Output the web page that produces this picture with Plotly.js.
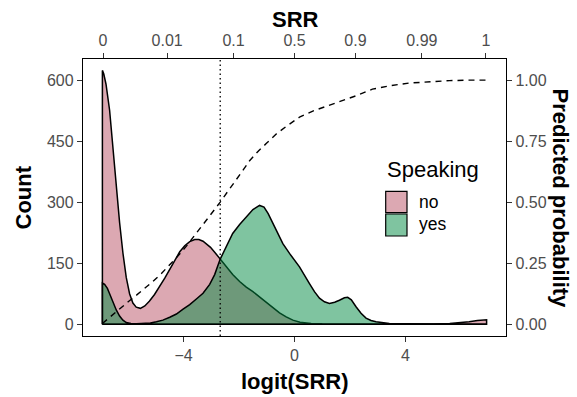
<!DOCTYPE html>
<html>
<head>
<meta charset="utf-8">
<script src="https://cdn.plot.ly/plotly-3.0.1.min.js"></script>
<style>html,body{margin:0;padding:0;background:#fff;}#chart{width:577px;height:397px;}</style>
</head>
<body>
<div id="chart"></div>
<script>
// ---- data ----
const categories = ["no", "yes"];
const noX = [-6.93,-6.88,-6.80,-6.67,-6.55,-6.43,-6.31,-6.19,-6.07,-5.95,-5.83,-5.71,-5.56,-5.40,-5.23,-5.05,-4.86,-4.68,-4.50,-4.32,-4.14,-3.96,-3.78,-3.60,-3.45,-3.30,-3.18,-3.03,-2.88,-2.68,-2.45,-2.23,-1.98,-1.74,-1.50,-1.26,-1.02,-0.78,-0.54,-0.30,-0.06,0.20,0.60,1.00,2.00,3.00,4.00,5.00,5.60,5.95,6.30,6.60,6.93];
const noY = [624,615,590,526,435,335,250,175,115,75,52,42,39,45,57,73,93,113,135,157,178,193,203,208,208,204,198,189,177,160,140,122,105,91,80,67,52,39,28,18,10,5,2,1,0.5,0.5,0.5,0.8,1.5,3,6,9,11];
const yesX = [-6.93,-6.85,-6.75,-6.67,-6.55,-6.43,-6.31,-6.19,-6.07,-5.90,-5.70,-5.47,-5.20,-4.98,-4.75,-4.50,-4.26,-4.02,-3.78,-3.54,-3.30,-3.06,-2.88,-2.68,-2.45,-2.23,-1.98,-1.74,-1.50,-1.26,-1.10,-0.95,-0.78,-0.60,-0.42,-0.18,0.18,0.54,0.72,0.90,1.08,1.26,1.45,1.62,1.80,1.92,2.05,2.22,2.40,2.58,2.76,2.94,3.20,3.42,4.00,5.00,6.00,6.93];
const yesY = [101,98,88,75,55,35,20,10,4,1.5,1,1.5,3,6,10,17,25,37,48,62,76,98,122,160,193,223,245,264,282,292,288,272,248,222,198,174,141,100,80,64,55,51,54,59,65,66,60,43,27,15,9,6,3,2,1,0.5,0.5,0.5];
const probX = [-6.93,-6.60,-6.31,-6.00,-5.70,-5.40,-5.10,-4.80,-4.50,-4.20,-3.90,-3.60,-3.30,-3.00,-2.68,-2.40,-2.10,-1.85,-1.62,-1.30,-1.02,-0.65,-0.30,0.20,0.70,1.20,1.51,2.20,2.81,3.50,4.14,5.00,5.59,6.30,6.93];
const probY = [0.003,0.035,0.064,0.092,0.119,0.147,0.176,0.208,0.242,0.280,0.320,0.364,0.410,0.455,0.500,0.545,0.590,0.632,0.670,0.710,0.740,0.780,0.810,0.850,0.875,0.895,0.905,0.935,0.963,0.978,0.988,0.995,0.998,1.000,1.000];
const cutoff = [-2.68];
const countTicks = [0,150,300,450,600];
const probTicks = [0,0.25,0.5,0.75,1];
const probTickLabels = ["0.00","0.25","0.50","0.75","1.00"];
const logitTicks = [-4,0,4];
const srrTickProbs = [0.001,0.01,0.1,0.5,0.9,0.99,0.999];
const srrTickLabels = ["0","0.01","0.1","0.5","0.9","0.99","1"];

// ---- layout helpers ----
const W=577,H=397,M={l:83,r:71,t:59,b:61};
const PW=W-M.l-M.r, PH=H-M.t-M.b;
const px = v => (v-M.l)/PW;
const py = v => (H-M.b-v)/PH;
const FONT = "Liberation Sans, Arial, Helvetica, sans-serif";
const countRange = [-29,652];
const countPerProb = 600;
const xRange = [-7.63,7.63];
const fills = {no:"rgba(185,81,101,0.5)", yes:"rgba(0,137,65,0.5)"};

function closed(xs, ys){
  return {x:[xs[0]].concat(xs,[xs[xs.length-1], xs[0]]), y:[0].concat(ys,[0,0])};
}
const noPoly = closed(noX, noY), yesPoly = closed(yesX, yesY);
const srrTickVals = srrTickProbs.map(p => Math.log(p/(1-p)));

const traces = [
  {x:noPoly.x, y:noPoly.y, type:"scatter", mode:"lines", fill:"toself", fillcolor:fills.no,
   line:{color:"#000", width:1.5}, name:categories[0], showlegend:false, hoverinfo:"skip"},
  {x:yesPoly.x, y:yesPoly.y, type:"scatter", mode:"lines", fill:"toself", fillcolor:fills.yes,
   line:{color:"#000", width:1.5}, name:categories[1], showlegend:false, hoverinfo:"skip"},
  {x:probX, y:probY, xaxis:"x2", yaxis:"y2", type:"scatter", mode:"lines",
   line:{color:"#000", width:1.4, dash:"6px,5px"}, showlegend:false, hoverinfo:"skip"}
];

const tickFont = {family:FONT, size:16, color:"#4D4D4D"};
const axBase = {showgrid:false, zeroline:false, ticks:"outside", ticklen:5, tickwidth:1, tickcolor:"#333",
  showline:true, linecolor:"#000", linewidth:1.2, tickfont:tickFont};

const titleFont = {family:FONT, size:22, color:"#000"};
const ann = (text, x, y, opts) => Object.assign({text:text, xref:"paper", yref:"paper", x:px(x), y:py(y),
  showarrow:false, xanchor:"center", yanchor:"middle", borderpad:0, font:titleFont}, opts||{});

const layout = {
  width:W, height:H, margin:{l:M.l, r:M.r, t:M.t, b:M.b, pad:0},
  paper_bgcolor:"#fff", plot_bgcolor:"#fff", showlegend:false,
  xaxis: Object.assign({}, axBase, {range:xRange, tickvals:logitTicks, anchor:"y"}),
  yaxis: Object.assign({}, axBase, {range:countRange, tickvals:countTicks, anchor:"x"}),
  xaxis2: Object.assign({}, axBase, {range:xRange, tickvals:srrTickVals, ticktext:srrTickLabels,
     overlaying:"x", side:"top", anchor:"y2"}),
  yaxis2: Object.assign({}, axBase, {range:countRange.map(v => v/countPerProb), tickvals:probTicks,
     ticktext:probTickLabels, overlaying:"y", side:"right", anchor:"x2"}),
  shapes: [
    {type:"line", xref:"x", yref:"paper", x0:cutoff[0], x1:cutoff[0], y0:0, y1:1,
     line:{color:"#000", width:1.3, dash:"1.5px,3px"}},
    {type:"rect", xref:"paper", yref:"paper", x0:px(385.7), x1:px(407), y0:py(212.7), y1:py(191.3),
     fillcolor:fills.no, line:{color:"#000", width:1.2}},
    {type:"rect", xref:"paper", yref:"paper", x0:px(385.7), x1:px(407), y0:py(236), y1:py(214),
     fillcolor:fills.yes, line:{color:"#000", width:1.2}}
  ],
  annotations: [
    ann("<b>SRR</b>", 295, 19.5),
    ann("<b>logit(SRR)</b>", 295, 381.5),
    ann("<b>Count</b>", 22.5, 197, {textangle:-90}),
    ann("<b>Predicted probability</b>", 560, 198.5, {textangle:90}),
    ann("Speaking", 386, 169.5, {xanchor:"left"}),
    ann(categories[0], 418, 202, {xanchor:"left", font:{family:FONT, size:17.5, color:"#000"}}),
    ann(categories[1], 418, 224.3, {xanchor:"left", font:{family:FONT, size:17.5, color:"#000"}})
  ]
};

Plotly.newPlot("chart", traces, layout, {staticPlot:true, displayModeBar:false});
</script>
</body>
</html>
